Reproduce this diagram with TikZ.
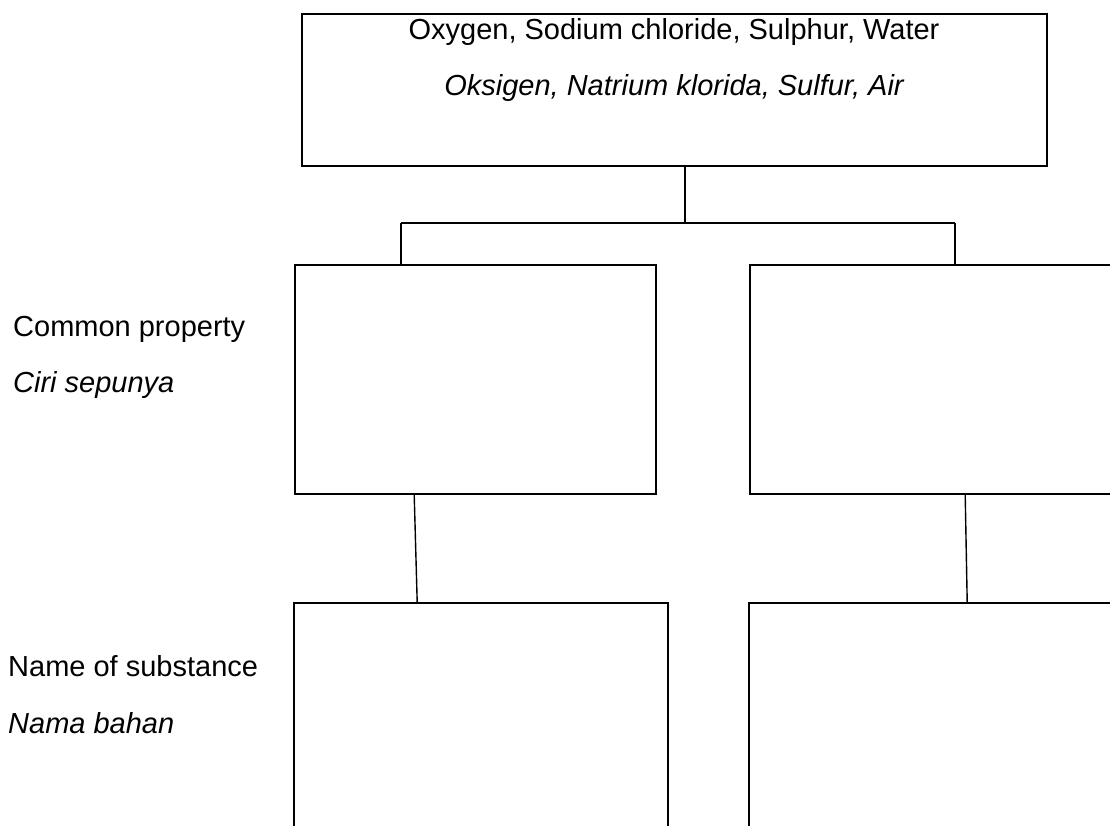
\documentclass[tikz,border=0pt]{standalone}
\usepackage{fontspec}
\setmainfont{Liberation Sans}
\begin{document}
\begin{tikzpicture}[x=1pt,y=-1pt,
  box/.style={draw=black,line width=1.6pt,rectangle,inner sep=0pt},
  link/.style={draw=black,line width=1.4pt},
  lbl/.style={inner sep=0pt,anchor=west,font=\fontsize{29}{33}\selectfont},
  txt/.style={inner sep=0pt,font=\fontsize{29}{33}\selectfont}]
\useasboundingbox (0,0) rectangle (1110,826);
\clip (0,0) rectangle (1110,826);
% boxes
\node[box,minimum width=745pt,minimum height=152pt] (top) at (674.5,90) {};
\node[box,minimum width=361pt,minimum height=229pt] (ml) at (475.5,379.5) {};
\node[box,minimum width=400pt,minimum height=229pt] (mr) at (950,379.5) {};
\node[box,minimum width=374pt,minimum height=260pt] (bl) at (481,733) {};
\node[box,minimum width=400pt,minimum height=260pt] (br) at (949,733) {};
% texts
\node[txt] (t1) at (674,32) {Oxygen, Sodium chloride, Sulphur, Water};
\node[txt] (t2) at (674,88) {\itshape Oksigen, Natrium klorida, Sulfur, Air};
\node[lbl] (cp) at (13,329) {Common property};
\node[lbl] (cs) at (13,385) {\itshape Ciri sepunya};
\node[lbl] (ns) at (8,666) {Name of substance};
\node[lbl] (nb) at (8,723) {\itshape Nama bahan};
% connectors
\coordinate (j) at (685,223);
\coordinate (jl) at (401,223);
\coordinate (jr) at (955,223);
\draw[link] (top.south -| j) -- (j);
\draw[link] (jl) -- (jr);
\draw[link] (jl) -- (jl |- ml.north);
\draw[link] (jr) -- (jr |- mr.north);
\draw[link] ([xshift=120pt]ml.south west) -- ([xshift=124pt]bl.north west);
\draw[link] ([xshift=216pt]mr.south west) -- ([xshift=219pt]br.north west);
\end{tikzpicture}
\end{document}
